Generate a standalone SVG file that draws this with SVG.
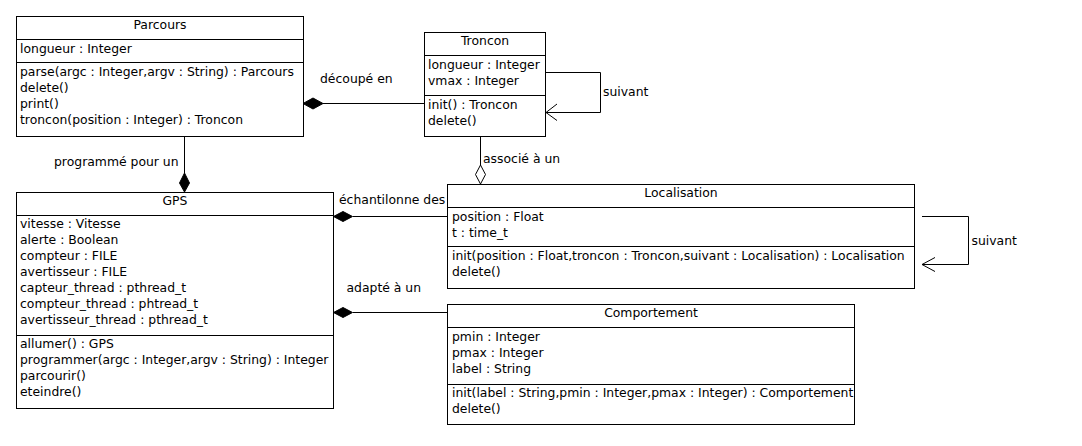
<svg xmlns="http://www.w3.org/2000/svg" width="1082" height="446" viewBox="0 0 1082 446">
<style>
.box{fill:#fff;stroke:#000;stroke-width:1}
.div{stroke:#000;stroke-width:1}
text{font-family:"DejaVu Sans",Verdana,sans-serif;font-size:12.4px;fill:#000}
.t{text-anchor:middle}
.ln{fill:none;stroke:#000;stroke-width:1}
.fd{fill:#000;stroke:#000;stroke-width:1}
.hd{fill:#fff;stroke:#000;stroke-width:1}
</style>
<rect width="1082" height="446" fill="#fff"/>
<g id="connectors">
<line class="ln" x1="424" y1="103.5" x2="323" y2="103.5"/>
<polygon class="fd" points="303,103.5 313,98 323,103.5 313,109"/>
<line class="ln" x1="184.5" y1="136" x2="184.5" y2="173"/>
<polygon class="fd" points="184.5,173 179.5,183 184.5,192 189.5,183"/>
<line class="ln" x1="480.5" y1="136" x2="480.5" y2="165"/>
<polygon class="hd" points="480.5,165 475.5,174.5 480.5,184 485.5,174.5"/>
<line class="ln" x1="447" y1="216.5" x2="353" y2="216.5"/>
<polygon class="fd" points="333.5,216.5 343,211.5 352.5,216.5 343,221.5"/>
<line class="ln" x1="447" y1="312.5" x2="353" y2="312.5"/>
<polygon class="fd" points="333.5,312.5 343,307.5 352.5,312.5 343,317.5"/>
<polyline class="ln" points="546,72.5 600.5,72.5 600.5,112.5 546,112.5"/>
<polyline class="ln" points="557,104 546,112.5 557,120.5"/>
<polyline class="ln" points="922,216.5 968.5,216.5 968.5,264.5 922,264.5"/>
<polyline class="ln" points="935,257.5 922,264.5 935,271.5"/>
<text x="320" y="83">découpé en</text>
<text x="603" y="96">suivant</text>
<text x="483" y="162.5">associé à un</text>
<text x="54" y="165.5">programmé pour un</text>
<text x="339" y="203.5">échantilonne des</text>
<text x="346.5" y="291.5">adapté à un</text>
<text x="971.5" y="245">suivant</text>
</g>
<g id="Parcours">
<rect class="box" x="16.5" y="16.5" width="287" height="120"/>
<line class="div" x1="16.5" y1="39.5" x2="303.5" y2="39.5"/>
<line class="div" x1="16.5" y1="62.5" x2="303.5" y2="62.5"/>
<text class="t" x="160" y="29">Parcours</text>
<text x="20" y="53">longueur : Integer</text>
<text x="20" y="76">parse(argc : Integer,argv : String) : Parcours</text>
<text x="20" y="92">delete()</text>
<text x="20" y="108">print()</text>
<text x="20" y="124">troncon(position : Integer) : Troncon</text>
</g>
<g id="Troncon">
<rect class="box" x="424.5" y="32.5" width="121" height="104"/>
<line class="div" x1="424.5" y1="55.5" x2="545.5" y2="55.5"/>
<line class="div" x1="424.5" y1="95.5" x2="545.5" y2="95.5"/>
<text class="t" x="485" y="45">Troncon</text>
<text x="428" y="69">longueur : Integer</text>
<text x="428" y="85">vmax : Integer</text>
<text x="428" y="108.5">init() : Troncon</text>
<text x="428" y="124.5">delete()</text>
</g>
<g id="GPS">
<rect class="box" x="16.5" y="192.5" width="317" height="216"/>
<line class="div" x1="16.5" y1="215.5" x2="333.5" y2="215.5"/>
<line class="div" x1="16.5" y1="335.5" x2="333.5" y2="335.5"/>
<text class="t" x="175" y="205">GPS</text>
<text x="20" y="228">vitesse : Vitesse</text>
<text x="20" y="244">alerte : Boolean</text>
<text x="20" y="260">compteur : FILE</text>
<text x="20" y="276">avertisseur : FILE</text>
<text x="20" y="292">capteur_thread : pthread_t</text>
<text x="20" y="308">compteur_thread : phtread_t</text>
<text x="20" y="324">avertisseur_thread : pthread_t</text>
<text x="20" y="348">allumer() : GPS</text>
<text x="20" y="364">programmer(argc : Integer,argv : String) : Integer</text>
<text x="20" y="380">parcourir()</text>
<text x="20" y="396">eteindre()</text>
</g>
<g id="Localisation">
<rect class="box" x="447.5" y="184.5" width="467" height="104"/>
<line class="div" x1="447.5" y1="207.5" x2="914.5" y2="207.5"/>
<line class="div" x1="447.5" y1="246.5" x2="914.5" y2="246.5"/>
<text class="t" x="681" y="197">Localisation</text>
<text x="452" y="221">position : Float</text>
<text x="452" y="237">t : time_t</text>
<text x="452" y="260">init(position : Float,troncon : Troncon,suivant : Localisation) : Localisation</text>
<text x="452" y="276">delete()</text>
</g>
<g id="Comportement">
<rect class="box" x="447.5" y="304.5" width="407" height="120"/>
<line class="div" x1="447.5" y1="327.5" x2="854.5" y2="327.5"/>
<line class="div" x1="447.5" y1="384.5" x2="854.5" y2="384.5"/>
<text class="t" x="651" y="317">Comportement</text>
<text x="452" y="341">pmin : Integer</text>
<text x="452" y="357">pmax : Integer</text>
<text x="452" y="373">label : String</text>
<text x="452" y="397">init(label : String,pmin : Integer,pmax : Integer) : Comportement</text>
<text x="452" y="413">delete()</text>
</g>
</svg>
